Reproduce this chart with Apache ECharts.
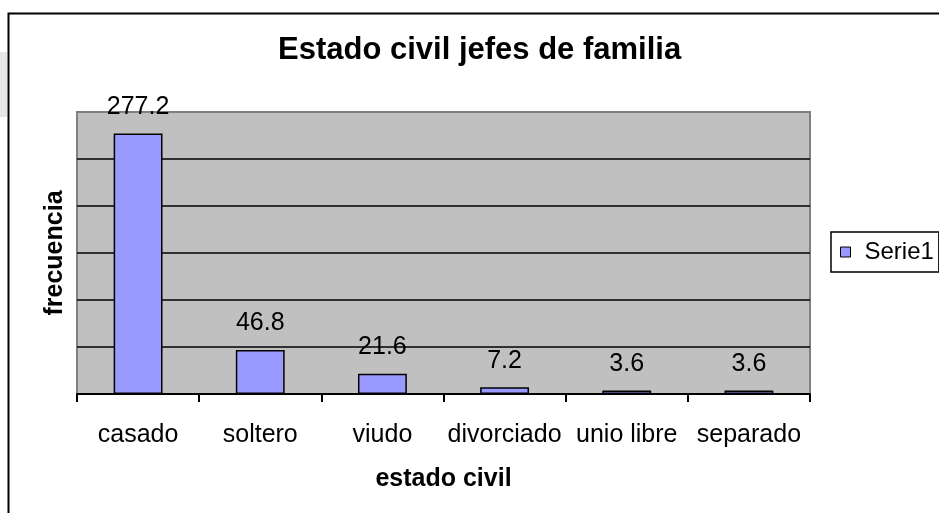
<!DOCTYPE html>
<html>
<head>
<meta charset="utf-8">
<script src="https://cdn.jsdelivr.net/npm/echarts@6/dist/echarts.min.js"></script>
<style>
  html, body { margin: 0; padding: 0; background: #fff; }
  #chart { width: 939px; height: 513px; }
</style>
</head>
<body>
<div id="chart"></div>
<script>
// datos
var categorias = ['casado', 'soltero', 'viudo', 'divorciado', 'unio libre', 'separado'];
var frecuencias = [277.2, 46.8, 21.6, 7.2, 3.6, 3.6];
var nombreSerie = 'Serie1';
var titulo = 'Estado civil jefes de familia';

var fuente = "'Liberation Sans', Arial, sans-serif";
var chart = echarts.init(document.getElementById('chart'));

var option = {
  backgroundColor: '#fff',
  animation: false,
  textStyle: { fontFamily: fuente },
  title: {
    text: titulo,
    left: 278,
    top: 35,
    padding: 0,
    textStyle: { fontSize: 31, fontWeight: 'bold', color: '#000', fontFamily: fuente }
  },
  // borde del area del grafico + trozo gris de la hoja
  graphic: [
    { type: 'rect', shape: { x: 0, y: 52, width: 7, height: 65 }, style: { fill: '#e6e6e6' }, z: -1 },
    { type: 'rect', shape: { x: 8.5, y: 13.5, width: 1000, height: 600 }, style: { fill: null, stroke: '#000', lineWidth: 2 } }
  ],
  legend: {
    data: [nombreSerie],
    left: 831,
    top: 232,
    padding: [8, 5, 8, 9],
    borderColor: '#000',
    borderWidth: 1.5,
    icon: 'rect',
    itemWidth: 10,
    itemHeight: 10,
    itemStyle: { borderColor: '#000', borderWidth: 1 },
    textStyle: { fontSize: 24, color: '#000', fontFamily: fuente, padding: [0, 0, 0, 9] }
  },
  grid: {
    left: 77,
    top: 112,
    right: 129,
    bottom: 119,
    show: true,
    backgroundColor: '#c0c0c0',
    borderColor: '#808080',
    borderWidth: 2
  },
  xAxis: {
    type: 'category',
    data: categorias,
    name: 'estado civil',
    nameLocation: 'middle',
    nameGap: 73,
    nameTextStyle: { fontSize: 25, fontWeight: 'bold', color: '#000', fontFamily: fuente },
    axisLine: { lineStyle: { color: '#000', width: 2 } },
    axisTick: { show: true, length: 8, lineStyle: { color: '#000', width: 2 } },
    axisLabel: { interval: 0, fontSize: 25, color: '#000', margin: 29, fontFamily: fuente },
    splitLine: { show: false }
  },
  yAxis: {
    type: 'value',
    min: 0,
    max: 300,
    interval: 50,
    name: 'frecuencia',
    nameLocation: 'middle',
    nameGap: 9,
    nameTextStyle: { fontSize: 25, fontWeight: 'bold', color: '#000', fontFamily: fuente },
    axisLine: { show: false },
    axisTick: { show: false },
    axisLabel: { show: false },
    splitLine: {
      show: true,
      showMinLine: false,
      showMaxLine: false,
      lineStyle: { color: '#000', width: 1.5 }
    }
  },
  series: [
    {
      name: nombreSerie,
      type: 'bar',
      data: frecuencias,
      barWidth: '40%',
      itemStyle: { color: '#9999ff', borderColor: '#000', borderWidth: 1.5 },
      label: {
        show: true,
        position: 'top',
        distance: 14,
        fontSize: 25,
        color: '#000',
        fontFamily: fuente
      }
    }
  ]
};

chart.setOption(option);
</script>
</body>
</html>
